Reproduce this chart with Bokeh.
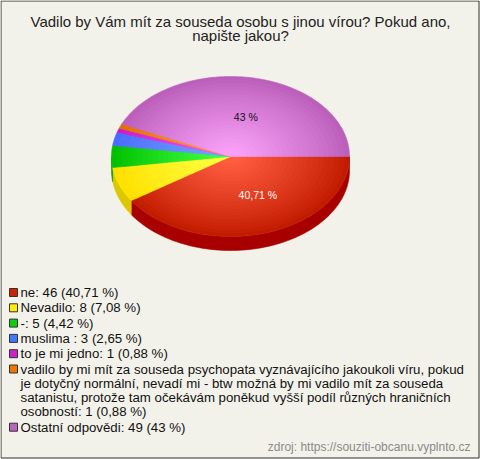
import textwrap
import numpy as np
from bokeh.plotting import figure
from bokeh.models import Range1d
from bokeh.embed import file_html
from bokeh.resources import INLINE
from bokeh.core.properties import value

# ---------------- data ----------------
title_lines = ["Vadilo by Vám mít za souseda osobu s jinou vírou? Pokud ano,",
               "napište jakou?"]
categories = [
    "ne",
    "Nevadilo",
    "-",
    "muslima ",
    "to je mi jedno",
    "vadilo by mi mít za souseda psychopata vyznávajícího jakoukoli víru, pokud "
    "je dotyčný normální, nevadí mi - btw možná by mi vadilo mít za souseda "
    "satanistu, protože tam očekávám poněkud vyšší podíl různých hraničních osobností",
    "Ostatní odpovědi",
]
counts = [46, 8, 5, 3, 1, 1, 49]
pct_text = ["40,71", "7,08", "4,42", "2,65", "0,88", "0,88", "43"]
source_text = "zdroj: https://souziti-obcanu.vyplnto.cz"

# ---------------- style ----------------
legend_colors = ["#cc2200", "#ffee00", "#11cc11", "#4477ff", "#cc22cc", "#ee7700", "#bb66bb"]
edge_colors = ["#c21c00", "#ffe000", "#00c000", "#4a6cff", "#c81ec8", "#e07000", "#bb5fbb"]
center_colors = ["#ff5c40", "#ffff40", "#40ff40", "#74a4ff", "#ff50ff", "#ffa030", "#f8a0f8"]
side_colors = ["#a80000", "#dcc800", "#00a000", "#3050c0", "#a010a0", "#b05000", "#905090"]
label_colors = ["#ffffff", "#000000", "#000000", "#000000", "#000000", "#000000", "#111111"]
BG = "#f3f2ea"
FONT = value("Liberation Sans")

W, H = 480, 459
p = figure(width=W, height=H, x_range=Range1d(0, W), y_range=Range1d(H, 0),
           output_backend="svg", toolbar_location=None, min_border=0,
           background_fill_color=BG, border_fill_color=BG, outline_line_color=None)
p.axis.visible = False
p.grid.visible = False

# frame
p.quad(left=[0.5], right=[478.5], top=[0.5], bottom=[457.5],
       fill_color=None, line_color="#333333", line_width=1)

# title
p.text(x=[240] * len(title_lines), y=[20.5 + 14 * i for i in range(len(title_lines))],
       text=title_lines, text_font=FONT, text_font_size="15px",
       text_align="center", text_baseline="middle", text_color="#222222")


# ---------------- pie ----------------
def hex2rgb(h):
    h = h.lstrip("#")
    return np.array([int(h[i:i + 2], 16) for i in (0, 2, 4)], dtype=float)


def mix(c1, c2, t):
    c = hex2rgb(c1) * (1 - t) + hex2rgb(c2) * t
    return "#%02x%02x%02x" % tuple(int(round(v)) for v in c)


cx, cy, rx, ry, depth = 230.0, 156.0, 119.0, 80.0, 14.0
total = float(sum(counts))
fr = np.array(counts, dtype=float) / total
ends = np.cumsum(fr) * 2 * np.pi
starts = ends - fr * 2 * np.pi

# side faces (front half: screen angle in (0, pi))
sx, sy, sc = [], [], []
for i in range(len(counts)):
    lo, hi = max(starts[i], 0.0), min(ends[i], np.pi)
    if hi > lo:
        a = np.linspace(lo, hi, 80)
        xt = cx + rx * np.cos(a)
        yt = cy + ry * np.sin(a)
        sx.append(list(xt) + list(xt[::-1]))
        sy.append(list(yt) + list((yt + depth)[::-1]))
        sc.append(side_colors[i])
p.patches(xs=sx, ys=sy, fill_color=sc, line_color=sc, line_width=0.6)

# top faces with radial shading
N = 22
px, py, pc = [], [], []
for k in range(N):
    s = 1.0 - 0.95 * k / N
    t = (k / (N - 1)) ** 0.9
    for i in range(len(counts)):
        n = max(4, int(np.degrees(ends[i] - starts[i])) + 2)
        a = np.linspace(starts[i], ends[i], n)
        px.append([cx] + list(cx + s * rx * np.cos(a)))
        py.append([cy] + list(cy + s * ry * np.sin(a)))
        pc.append(mix(edge_colors[i], center_colors[i], t))
p.patches(xs=px, ys=py, fill_color=pc, line_color=pc, line_width=0.6)

# slice labels
lx, ly, lt, lc = [], [], [], []
for i in range(len(counts)):
    if fr[i] > 0.1:
        a = (starts[i] + ends[i]) / 2
        lx.append(cx + 0.5 * rx * np.cos(a))
        ly.append(cy + 0.5 * ry * np.sin(a))
        lt.append(pct_text[i] + " %")
        lc.append(label_colors[i])
p.text(x=lx, y=ly, text=lt, text_color=lc, text_font=FONT, text_font_size="10.5px",
       text_align="left", text_baseline="middle", x_offset=-9)

# ---------------- legend ----------------
y = 292.0
item_gap, line_gap = 15.3, 14.3
tx, ty, tt = [], [], []
qx, qy, qc = [], [], []
for i, name in enumerate(categories):
    label = f"{name}: {counts[i]} ({pct_text[i]} %)"
    lines = textwrap.wrap(label, width=74)
    qx.append(13.0)
    qy.append(y)
    qc.append(legend_colors[i])
    for j, ln in enumerate(lines):
        tx.append(20.0)
        ty.append(y)
        tt.append(ln)
        if j < len(lines) - 1:
            y += line_gap
    y += item_gap
p.rect(x=qx, y=qy, width=8, height=8, fill_color=qc, line_color="#333333", line_width=1)
p.text(x=tx, y=ty, text=tt, text_font=FONT, text_font_size="13.25px",
       text_align="left", text_baseline="middle", text_color="#111111")

# source
p.text(x=[470], y=[446], text=[source_text], text_font=FONT, text_font_size="12px",
       text_align="right", text_baseline="middle", text_color="#8a8a8a")

html = file_html(p, INLINE)
html = html.replace("<head>", "<head><style>html,body{margin:0;padding:0;overflow:hidden;}</style>", 1)
open("out.html", "w").write(html)
